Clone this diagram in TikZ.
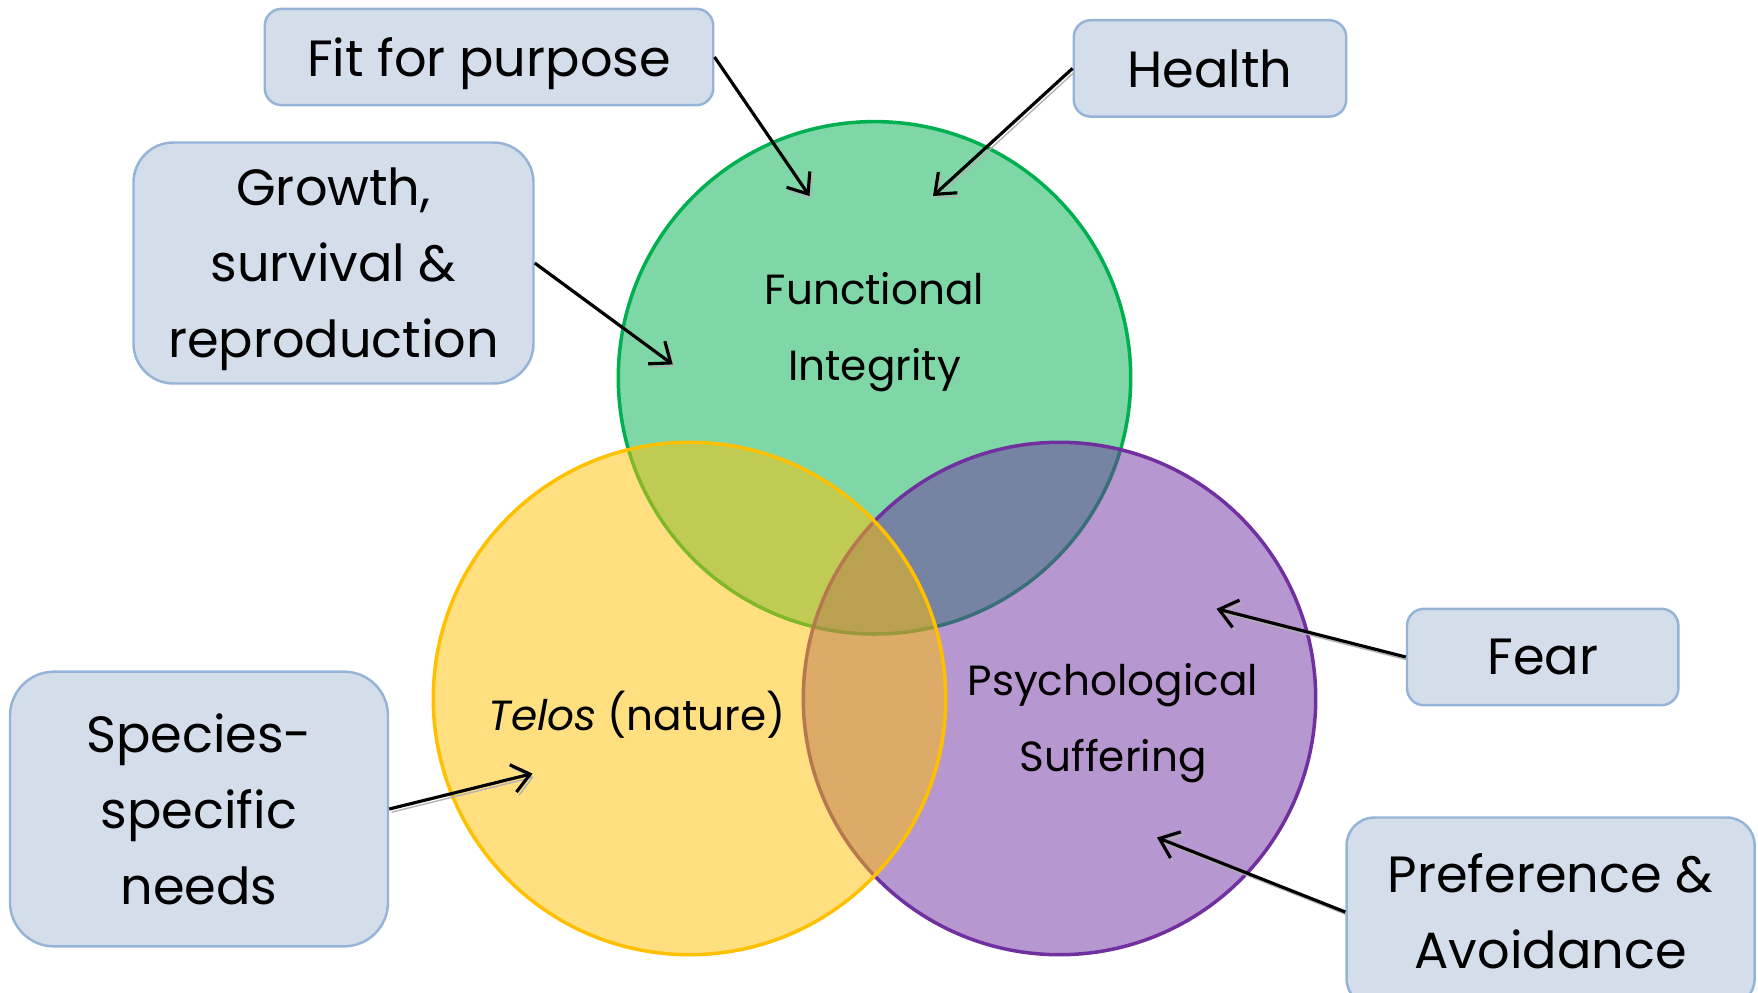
\documentclass[tikz,border=0pt]{standalone}
\usepackage{fontspec}
\setmainfont{Poppins}
\usetikzlibrary{arrows.meta,positioning}

\definecolor{ringgreen}{HTML}{00B050}
\definecolor{ringyellow}{HTML}{FFC000}
\definecolor{ringpurple}{HTML}{7030A0}
\definecolor{boxfill}{HTML}{D3DEEA}
\definecolor{boxline}{HTML}{95B3D7}

\newcommand{\boxfont}{\fontsize{14.5}{21.6}\selectfont}
\newcommand{\ringfont}{\fontsize{12}{21.6}\selectfont}

\begin{document}
\begin{tikzpicture}[
  block/.style={rectangle, draw=boxline, fill=boxfill, line width=0.7pt, align=center, font=\boxfont, inner sep=0pt,
    text depth=-2.7pt},
  ring/.style={circle, minimum size=5.124cm, inner sep=0pt, line width=1pt, fill opacity=0.5, draw opacity=1},
  link/.style={-{Straight Barb[length=5pt,width=8pt]}, line width=0.9pt,
    preaction={draw=black!30, transform canvas={shift={(0.7pt,-0.9pt)}}}},
  font=\ringfont
]
\useasboundingbox (0,0) rectangle (17.58,9.92);

% the three circles
\node[ring, draw=ringgreen, fill=ringgreen] (integrity) at (8.745,6.142) {};
\node[ring, draw=ringpurple, fill=ringpurple] (suffering) at (10.595,2.935) {};
\node[ring, draw=ringyellow, fill=ringyellow] (telos) at (6.895,2.935) {};

\node[align=center] (integrity_txt) at (8.745,6.60) {Functional\\Integrity};
\node[align=center] (telos_txt) at (6.37,2.77) {\textit{Telos} (nature)};
\node[align=center] (suffering_txt) at (11.13,2.69) {Psychological\\Suffering};

% the boxes
\node[block, rounded corners=1.7mm, minimum width=4.485cm, minimum height=0.964cm] (fit) at (4.89,9.35) {Fit for purpose};
\node[block, rounded corners=1.7mm, minimum width=2.725cm, minimum height=0.964cm] (health) at (12.10,9.236) {Health};
\node[block, rounded corners=4mm, minimum width=4.0cm, minimum height=2.41cm, text depth=-3pt] (growth) at (3.335,7.29) {Growth,\\survival \&\\reproduction};
\node[block, rounded corners=1.7mm, minimum width=2.714cm, minimum height=0.964cm] (fear) at (15.427,3.35) {Fear};
\node[block, rounded corners=2.8mm, minimum width=4.081cm, minimum height=1.89cm, text depth=0.5pt] (pref) at (15.506,0.80) {Preference \&\\Avoidance};
\node[block, rounded corners=4.4mm, minimum width=3.78cm, minimum height=2.747cm, text depth=-5pt] (species) at (1.99,1.83) {Species-\\specific\\needs};

% arrow targets
\coordinate (fit_end) at (8.095,7.96);
\coordinate (health_end) at (9.33,7.96);
\coordinate (growth_end) at (6.727,6.276);
\coordinate (species_end) at (5.326,2.184);
\coordinate (fear_end) at (12.165,3.832);
\coordinate (pref_end) at (11.57,1.545);

\draw[link] (fit.east) -- (fit_end);
\draw[link] (health.west) -- (health_end);
\draw[link] (growth.east) -- (growth_end);
\draw[link] (species.east) -- (species_end);
\draw[link] (fear.west) -- (fear_end);
\draw[link] (pref.west) -- (pref_end);
\end{tikzpicture}
\end{document}
